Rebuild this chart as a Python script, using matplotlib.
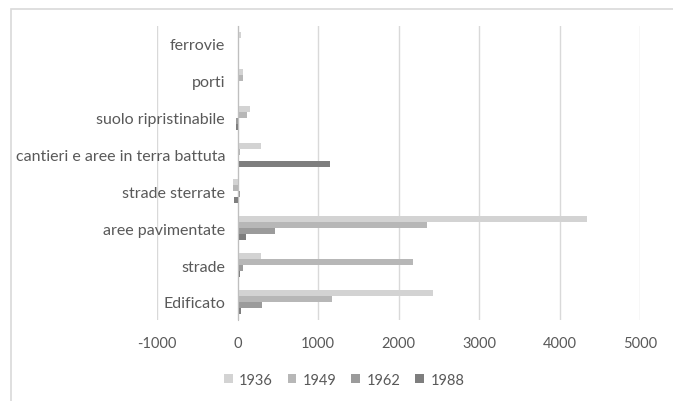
import matplotlib.pyplot as plt
from matplotlib.patches import Rectangle

categorie = ["Edificato", "strade", "aree pavimentate", "strade sterrate",
             "cantieri e aree in terra battuta", "suolo ripristinabile",
             "porti", "ferrovie"]
anni = ["1936", "1949", "1962", "1988"]
v1936 = [2430, 290, 4340, -50, 290, 155, 65, 45]
v1949 = [1170, 2185, 2360, -50, 25, 120, 65, 0]
v1962 = [310, 65, 460, 25, 0, -20, 0, 0]
v1988 = [45, 30, 105, -40, 1155, -25, 0, 0]
serie = [v1936, v1949, v1962, v1988]
colori = ["#d3d3d3", "#b7b7b7", "#9b9b9b", "#7e7e7e"]

plt.rcParams['font.family'] = ['Lato', 'DejaVu Sans']
plt.rcParams['axes.unicode_minus'] = False

fig = plt.figure(figsize=(6.73, 4.02), dpi=100)
ax = fig.add_axes([0.2333, 0.2005, 0.7177, 0.7335])

h = 0.163
offsets = [1.5 * h, 0.5 * h, -0.5 * h, -1.5 * h]
y = list(range(len(categorie)))
for vals, off, col, anno in zip(serie, offsets, colori, anni):
    ax.barh([i + off for i in y], vals, height=h, color=col, label=anno, zorder=3)

ax.set_xlim(-1000, 5000)
ax.set_ylim(-0.5, len(categorie) - 0.5)
ax.set_xticks(range(-1000, 5001, 1000))
ax.set_yticks(y)
ax.set_yticklabels(categorie)
ax.xaxis.grid(True, color="#d9d9d9", linewidth=1, zorder=0)
ax.tick_params(axis='both', length=0, colors="#595959")
ax.tick_params(axis='x', pad=11, labelsize=10.5)
ax.tick_params(axis='y', pad=9, labelsize=11.5)

for s in ["top", "right", "bottom"]:
    ax.spines[s].set_visible(False)
ax.spines["left"].set_position(("data", 0))
ax.spines["left"].set_color("#bfbfbf")
ax.spines["left"].set_zorder(4)

ax.legend(loc="center", bbox_to_anchor=(344 / 673, 1 - 381 / 402),
          bbox_transform=fig.transFigure, ncol=4, frameon=False,
          fontsize=10.5, labelcolor="#595959", handlelength=0.6,
          handleheight=0.6, handletextpad=0.45, columnspacing=1.0)

fig.patches.append(Rectangle((11 / 673, -0.1), 1.2, 1 - 10 / 402 + 0.1,
                             transform=fig.transFigure, fill=False,
                             edgecolor="#d9d9d9", linewidth=1.2))

fig.savefig("out.png", dpi=100)
